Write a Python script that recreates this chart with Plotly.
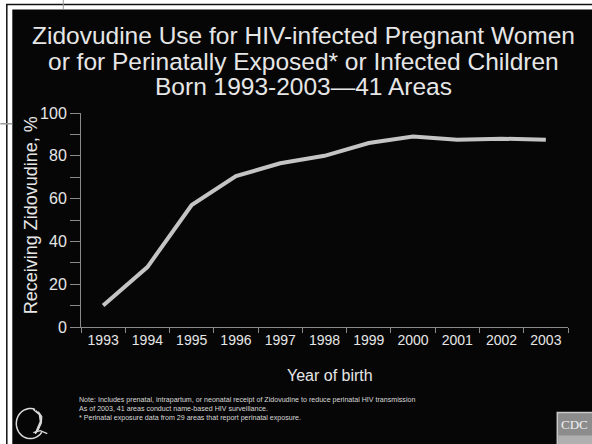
import math
import plotly.graph_objects as go

# Data
years = ["1993", "1994", "1995", "1996", "1997", "1998", "1999", "2000", "2001", "2002", "2003"]
pct_receiving = [10, 28, 57, 70.5, 76.5, 80, 86, 89, 87.5, 88, 87.5]

title_lines = [
    "Zidovudine Use for HIV-infected Pregnant Women",
    "or for Perinatally Exposed* or Infected Children",
    "Born 1993-2003\u201441 Areas",
]
note_lines = [
    "Note: Includes prenatal, intrapartum, or neonatal receipt of Zidovudine to reduce perinatal HIV transmission",
    "As of 2003, 41 areas conduct name-based HIV surveillance.",
    "* Perinatal exposure data from 29 areas that report perinatal exposure.",
]

W, H = 592, 444
ML, MR, MT, MB = 80.7, 24.3, 113.3, 117.3
PW, PH = W - ML - MR, H - MT - MB

TXT = "#e6e6e6"
BG = "#060606"
FONT = "Liberation Sans, Arial, sans-serif"


def px(x):
    return (x - ML) / PW


def py(y):
    return (H - MB - y) / PH


def path_from(points):
    return "M " + " L ".join(f"{px(a):.5f},{py(b):.5f}" for a, b in points)


fig = go.Figure()
fig.add_trace(go.Scatter(
    x=years, y=pct_receiving, mode="lines",
    line=dict(color="#c4c4c4", width=4),
    hoverinfo="skip", showlegend=False,
))

shapes = [
    # slide frame
    dict(type="rect", xref="paper", yref="paper", x0=px(6.5), x1=px(W + 5), y0=py(5), y1=py(H + 5),
         line=dict(color="#111", width=1.5), fillcolor="rgba(0,0,0,0)", layer="below"),
    dict(type="rect", xref="paper", yref="paper", x0=px(12), x1=px(W + 5), y0=py(10), y1=py(H + 5),
         line=dict(width=0), fillcolor=BG, layer="below"),
    dict(type="line", xref="paper", yref="paper", x0=px(63), x1=px(63), y0=py(0), y1=py(10),
         line=dict(color="#999", width=1)),
    dict(type="line", xref="paper", yref="paper", x0=px(0), x1=px(12), y0=py(124), y1=py(124),
         line=dict(color="#999", width=1.5)),
    # CDC badge
    dict(type="rect", xref="paper", yref="paper", x0=px(557), x1=px(W + 2), y0=py(412), y1=py(H + 2),
         line=dict(color="#c8c8c8", width=1.5), fillcolor="#8c8c8c"),
    dict(type="rect", xref="paper", yref="paper", x0=px(558), x1=px(W + 2), y0=py(435), y1=py(H + 2),
         line=dict(width=0), fillcolor="#b0b0b0"),
]

# HHS emblem: ring open on the right, with swept profile strokes
ring = []
for k in range(0, 31):
    ang = math.radians(70 + k * 8.5)
    ring.append((30 + 14 * math.cos(ang), 423 - 15 * math.sin(ang)))
shapes.append(dict(type="path", xref="paper", yref="paper", path=path_from(ring),
                   line=dict(color="#dcdcdc", width=1.5)))
for off in (0, 2.5, 5):
    stroke = [(33 + off, 409 + off * 0.4), (39 + off * 0.5, 414 + off * 0.4),
              (40 + off * 0.2, 421 + off * 0.3), (37 + off * 0.2, 428 + off * 0.2),
              (35, 433)]
    shapes.append(dict(type="path", xref="paper", yref="paper", path=path_from(stroke),
                       line=dict(color="#dcdcdc", width=1.2)))
shapes.append(dict(type="path", xref="paper", yref="paper",
                   path=path_from([(33, 432), (40, 430), (47, 433)]),
                   line=dict(color="#dcdcdc", width=1.2)))

annotations = []
for line, yc in zip(title_lines, (36.5, 61.5, 86.5)):
    annotations.append(dict(text=line, x=px(303.5), y=py(yc), xref="paper", yref="paper",
                            showarrow=False, xanchor="center", yanchor="middle",
                            font=dict(family=FONT, size=24.5, color=TXT)))

annotations += [
    dict(text="Receiving Zidovudine, %", x=px(31), y=py(215), xref="paper", yref="paper",
         showarrow=False, textangle=-90, xanchor="center", yanchor="middle",
         font=dict(family=FONT, size=18, color=TXT)),
    dict(text="Year of birth", x=px(330), y=py(375), xref="paper", yref="paper",
         showarrow=False, xanchor="center", yanchor="middle",
         font=dict(family=FONT, size=16, color=TXT)),
    dict(text="<br>".join(note_lines), x=px(77), y=py(408.5), xref="paper", yref="paper",
         showarrow=False, xanchor="left", yanchor="middle", align="left",
         font=dict(family=FONT, size=7.1, color="#d8d8d8")),
    dict(text="CDC", x=px(574.5), y=py(423.5), xref="paper", yref="paper",
         showarrow=False, xanchor="center", yanchor="middle",
         font=dict(family="Liberation Serif, serif", size=13, color="#f2f2f2")),
]

fig.update_layout(
    width=W, height=H,
    margin=dict(l=ML, r=MR, t=MT, b=MB, pad=0),
    paper_bgcolor="white", plot_bgcolor=BG,
    shapes=shapes, annotations=annotations,
    xaxis=dict(
        type="category", range=[-0.5, 10.5], tickson="boundaries",
        showgrid=False, zeroline=False, showline=True, linecolor="#8a8a8a", linewidth=1,
        ticks="outside", ticklen=5, tickcolor="#8a8a8a",
        tickfont=dict(family=FONT, size=14, color=TXT),
    ),
    yaxis=dict(
        range=[0, 100], dtick=20, tick0=0,
        showgrid=False, zeroline=False, showline=True, linecolor="#8a8a8a", linewidth=1,
        ticks="outside", ticklen=10, tickcolor="#8a8a8a",
        tickfont=dict(family=FONT, size=16, color=TXT),
        minor=dict(dtick=10, ticks="outside", ticklen=10, tickcolor="#8a8a8a"),
    ),
)

fig.write_html("out.html")
